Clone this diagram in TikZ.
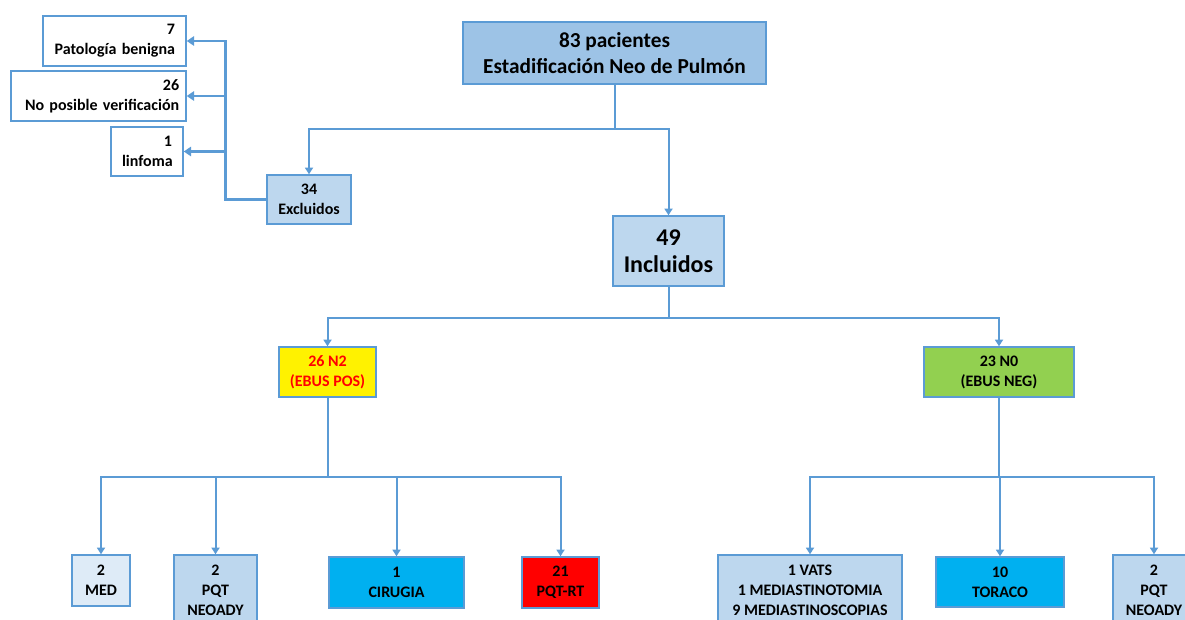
\documentclass[tikz,border=0pt]{standalone}
\usepackage{fontspec}
\setmainfont{Carlito}
\usetikzlibrary{arrows.meta}
\definecolor{lineblue}{HTML}{5B9BD5}
\definecolor{topblue}{HTML}{9DC3E6}
\definecolor{lightblue}{HTML}{BDD7EE}
\definecolor{paleblue}{HTML}{DEEBF7}
\definecolor{cyanbox}{HTML}{00B0F0}
\definecolor{greenbox}{HTML}{92D050}
\begin{document}
\begin{tikzpicture}
[x=0.75pt, y=-0.75pt,
 box/.style={draw=lineblue, line width=1.1pt, align=center, inner sep=0pt, font=\bfseries\fontsize{12}{15}\selectfont},
 leftbox/.style={box, fill=white, align=right, inner xsep=8.25pt, minimum height=37.5pt},
 conn/.style={draw=lineblue, line width=1.5pt, -{Triangle[width=6pt,length=5pt]}},
 leftconn/.style={conn, line width=2.2pt, -{Triangle[width=7pt,length=5.5pt]}}]
\useasboundingbox (0,0) rectangle (1185,619);
\clip (0,0) rectangle (1185,619);
% top of the chart
\node [box, fill=topblue, minimum width=227.25pt, minimum height=46.5pt, font=\bfseries\fontsize{16}{19}\selectfont] (pac) at (614.5,53) {83 pacientes\\Estadificación Neo de Pulmón};
\node [box, fill=lightblue, minimum width=63pt, minimum height=36.75pt] (excl) at (309,199.5) {34\\Excluidos};
\node [box, fill=lightblue, minimum width=83.25pt, minimum height=52.5pt, font=\bfseries\fontsize{18}{20.5}\selectfont] (incl) at (668.5,251) {49\\Incluidos};
% excluded patients
\node [leftbox, text width=90.75pt] (benign) at (114.5,41) {7\\Patología benigna};
\node [leftbox, text width=121pt, inner xsep=5.1pt] (noverif) at (98.5,96) {26\\No posible verificación};
\node [leftbox, text width=37.5pt, minimum height=36.75pt] (linf) at (147,151.5) {1\\linfoma};
% EBUS result
\node [box, fill=yellow, text=red, minimum width=72.75pt, minimum height=37.5pt] (ntwo) at (327.5,372) {26 N2\\(EBUS POS)};
\node [box, fill=greenbox, minimum width=112.5pt, minimum height=37.5pt] (nzero) at (999,372) {23 N0\\(EBUS NEG)};
% treatment
\node [box, fill=paleblue, minimum width=43.5pt, minimum height=38.25pt] (med) at (101,580.5) {2\\MED};
\node [box, fill=lightblue, minimum width=62.25pt, minimum height=52.5pt] (neoA) at (215.5,590) {2\\PQT\\NEOADY};
\node [box, fill=cyanbox, minimum width=101.25pt, minimum height=38.25pt] (cir) at (396.5,582.5) {1\\CIRUGIA};
\node [box, fill=red, minimum width=57.75pt, minimum height=38.25pt] (pqtrt) at (560.5,582.5) {21\\PQT-RT};
\node [box, fill=lightblue, minimum width=138pt, minimum height=52.5pt] (vats) at (810,590) {1 VATS\\1 MEDIASTINOTOMIA\\9 MEDIASTINOSCOPIAS};
\node [box, fill=cyanbox, minimum width=96pt, minimum height=37.5pt] (tor) at (1000,582) {10\\TORACO};
\node [box, fill=lightblue, minimum width=61.5pt, minimum height=52.5pt] (neoB) at (1154,590) {2\\PQT\\NEOADY};
% connectors
\path (pac.south) ++(0,44) coordinate (jtop);
\draw [conn] (pac.south) -- (jtop) -| (excl.north);
\draw [conn] (jtop) -| (incl.north);
\draw [leftconn] (excl.west) -- ++(-41,0) coordinate (jleft) |- (benign.east);
\draw [leftconn] (jleft |- noverif.east) -- (noverif.east);
\draw [leftconn] (jleft |- linf.east) -- (linf.east);
\path (incl.south) ++(0,31) coordinate (jincl);
\draw [conn] (incl.south) -- (jincl) -| (ntwo.north);
\draw [conn] (jincl) -| (nzero.north);
\path (ntwo.south) ++(0,79) coordinate (jtwo);
\foreach \n in {med,neoA,cir,pqtrt}
  \draw [conn] (ntwo.south) -- (jtwo) -| (\n.north);
\path (nzero.south) ++(0,79) coordinate (jzero);
\foreach \n in {vats,tor,neoB}
  \draw [conn] (nzero.south) -- (jzero) -| (\n.north);
\end{tikzpicture}
\end{document}
